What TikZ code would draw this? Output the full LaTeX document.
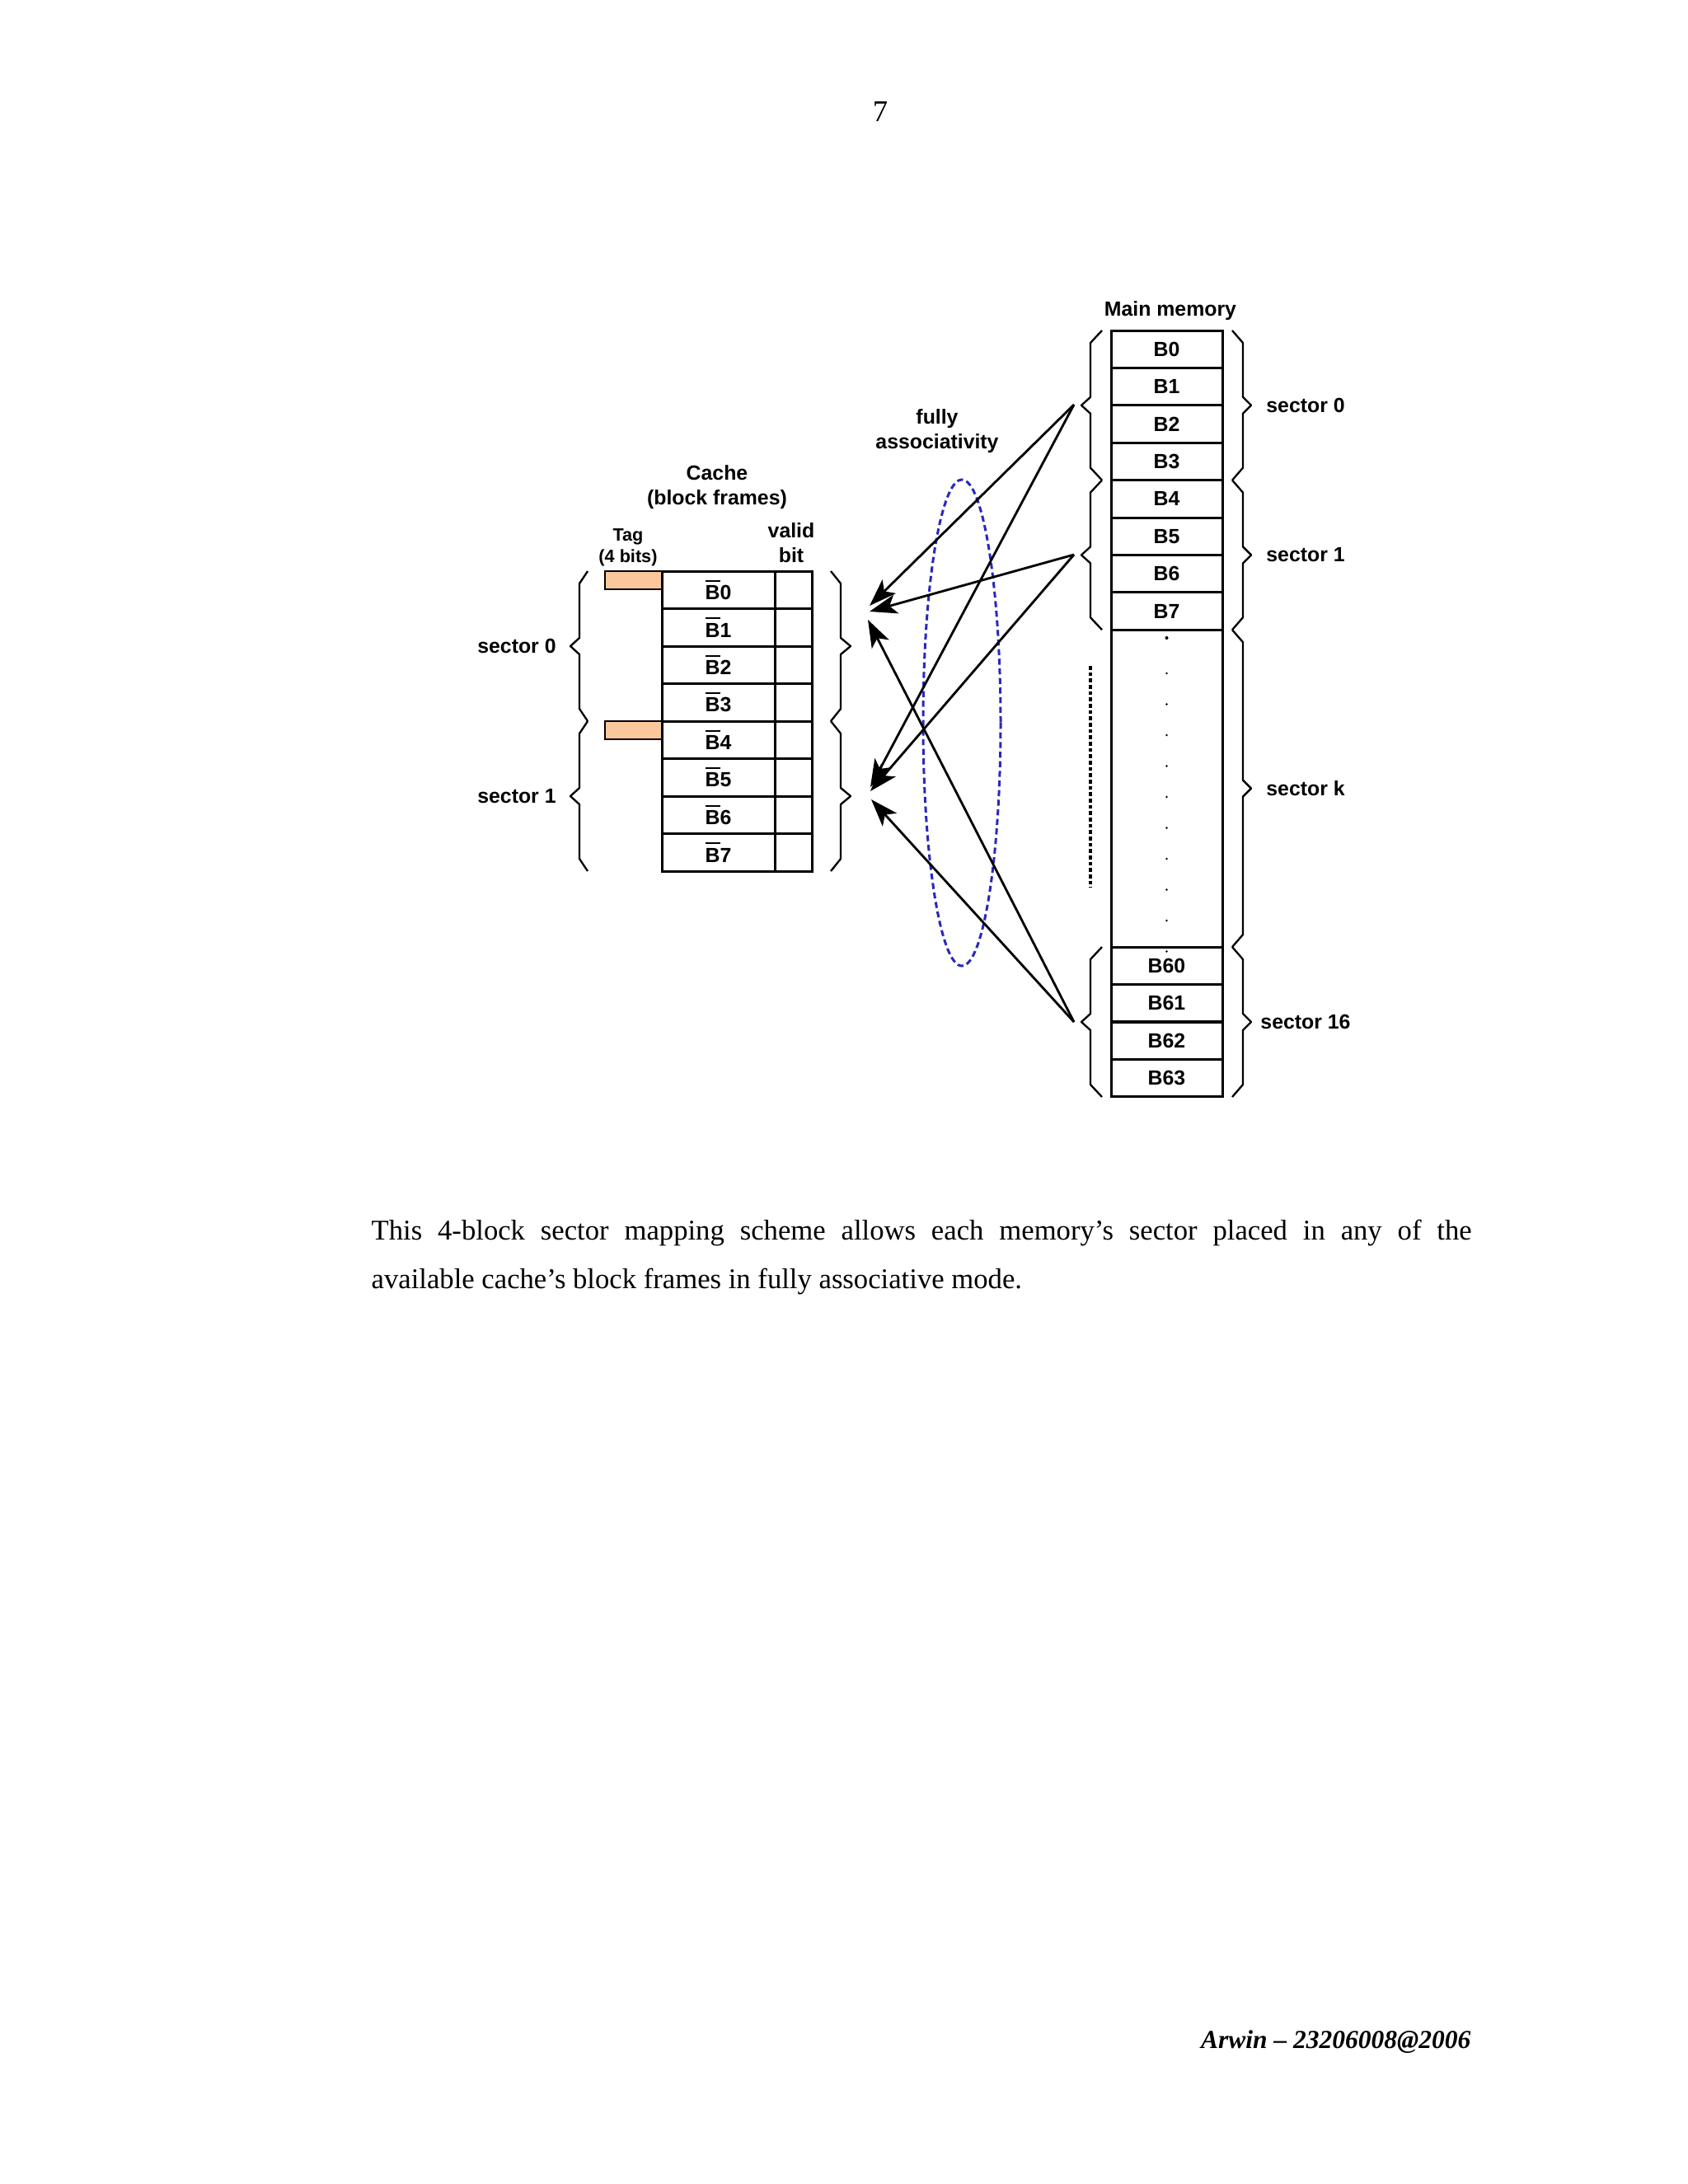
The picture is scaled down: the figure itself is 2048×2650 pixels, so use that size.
\documentclass[tikz,border=0pt]{standalone}
\usepackage{fontspec}
\setmainfont{Liberation Serif}
\newfontfamily\diagfont{Liberation Sans}
\usetikzlibrary{arrows.meta}
\definecolor{tagfill}{RGB}{250,200,155}
\definecolor{ellblue}{RGB}{40,40,190}
\newcommand{\curlyb}[5]{% hook x, spine x, tip x, top y, bottom y
  \draw[bracestyle] ({#1},{#4}) -- ({#2},{#4+15}) -- ({#2},{(#4+#5)/2-10}) -- ({#3},{(#4+#5)/2})
    -- ({#2},{(#4+#5)/2+10}) -- ({#2},{#5-15}) -- ({#1},{#5});}
\newcommand{\ovB}{\leavevmode\rlap{\rule[6.5pt]{5.4pt}{0.6pt}}B}
\begin{document}
\begin{tikzpicture}[x=0.3pt,y=-0.3pt,
  lbl/.style={font=\diagfont\bfseries\fontsize{7.45}{9}\selectfont, inner sep=0pt, align=center},
  smalllbl/.style={font=\diagfont\bfseries\fontsize{6.5}{7.8}\selectfont, inner sep=0pt, align=center},
  memblk/.style={draw, line width=0.9pt, minimum width=40.5pt, minimum height=13.62pt, inner sep=0pt,
    font=\diagfont\bfseries\fontsize{7.45}{9}\selectfont},
  cblk/.style={draw, line width=0.9pt, minimum width=41.1pt, minimum height=13.65pt, inner sep=0pt,
    font=\diagfont\bfseries\fontsize{7.45}{9}\selectfont},
  vblk/.style={draw, line width=0.9pt, minimum width=13.5pt, minimum height=13.65pt, inner sep=0pt},
  tagbar/.style={draw, line width=0.7pt, fill=tagfill, minimum width=20.7pt, minimum height=6.6pt, inner sep=0pt},
  bracestyle/.style={line width=0.7pt, line join=round},
  arr/.style={line width=0.85pt, -{Stealth[length=10pt,width=7pt,inset=2.5pt]}},
  ellstyle/.style={ellblue, line width=0.9pt, dash pattern=on 2.2pt off 1.3pt},
  dashline/.style={line width=1.2pt, dash pattern=on 1.4pt off 0.9pt},
  ]
\fill[white] (0,0) rectangle (2048,2650);
\useasboundingbox (0,0) rectangle (2048,2650);

% page number
\node[font=\fontsize{11}{13}\selectfont, inner sep=0pt] (pg) at (1068,135) {7};

% ---------- main memory ----------
\node[lbl] (mmlabel) at (1420,377) {Main memory};
\foreach \i in {0,...,7}
  \node[memblk] (m\i) at (1415.5,{401+45.4*(\i+0.5)}) {B\i};
\node[memblk, minimum height=115.44pt] (mk) at (1415.5,956.6) {};
\foreach \i [count=\j from 0] in {60,...,63}
  \node[memblk] (m\i) at (1415.5,{1149+45.5*(\j+0.5)}) {B\i};
% dots in the middle section
\fill (1415.5,774) circle[radius=2];
\foreach \y in {817,854.5,...,1155}
  \fill (1415.5,\y) circle[radius=1.3];

% memory braces
\curlyb{1337}{1323}{1312}{401}{582.6}
\curlyb{1337}{1323}{1312}{582.6}{764.2}
\curlyb{1337}{1323}{1312}{1149}{1331}
\curlyb{1495}{1508}{1518}{401}{582.6}
\curlyb{1495}{1508}{1518}{582.6}{764.2}
\curlyb{1495}{1508}{1518}{764.2}{1149}
\curlyb{1495}{1508}{1518}{1149}{1331}
\node[lbl] (ms0) at (1584,492) {sector 0};
\node[lbl] (ms1) at (1584,673) {sector 1};
\node[lbl] (msk) at (1584,957) {sector k};
\node[lbl] (ms16) at (1584,1240) {sector 16};
\draw[dashline] (1323,808) -- (1323,1077);

% ---------- cache ----------
\node[lbl] (cachelabel) at (870,591) {Cache\\(block frames)};
\node[smalllbl] (taglabel) at (762,664) {Tag\\(4 bits)};
\node[lbl] (validlabel) at (960,659) {valid\\bit};
\foreach \i in {0,...,7} {
  \node[cblk] (c\i) at (871.5,{693+45.5*(\i+0.5)}) {\ovB\i};
  \node[vblk] (v\i) at (962.5,{693+45.5*(\i+0.5)}) {};
}
\node[tagbar] (t0) at (768.5,704) {};
\node[tagbar] (t4) at (768.5,886) {};
\curlyb{713}{703}{692}{693}{875}
\curlyb{713}{703}{692}{875}{1057}
\curlyb{1008}{1020}{1032}{693}{875}
\curlyb{1008}{1020}{1032}{875}{1057}
\node[lbl] (cs0) at (627,784) {sector 0};
\node[lbl] (cs1) at (627,966) {sector 1};

% ---------- associativity ----------
\node[lbl] (fa) at (1137,523) {fully\\associativity};
\draw[ellstyle] (1167,877) ellipse[x radius=47, y radius=295];
\coordinate (s0) at (1303,491);
\coordinate (s1) at (1303,673);
\coordinate (s16) at (1303,1240);
\coordinate (a0) at (1055,735);
\coordinate (a1) at (1055,742);
\coordinate (a16) at (1053,752);
\coordinate (b0) at (1056,955);
\coordinate (b1) at (1056,960);
\coordinate (b16) at (1057,970);
\draw[arr] (s0) -- (a0);
\draw[arr] (s0) -- (b0);
\draw[arr] (s1) -- (a1);
\draw[arr] (s1) -- (b1);
\draw[arr] (s16) -- (a16);
\draw[arr] (s16) -- (b16);

% ---------- text ----------
\node[anchor=base west, inner sep=0pt] (body) at (450,1504)
  {\parbox[t]{400.5pt}{\fontsize{10.4}{17.7}\selectfont This 4-block sector mapping scheme allows each memory’s sector placed in any of the\linebreak available cache’s block frames in fully associative mode.}};
\node[anchor=base east, inner sep=0pt, font=\fontsize{9.45}{11}\selectfont\bfseries\itshape] (foot) at (1785,2485) {Arwin – 23206008@2006};
\end{tikzpicture}
\end{document}
